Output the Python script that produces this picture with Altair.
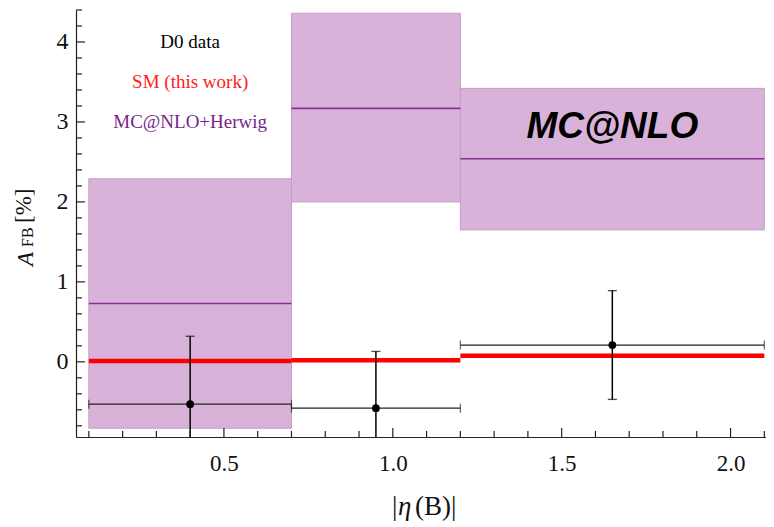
import altair as alt
import pandas as pd

# ---- data ----
bin_lo = [0.1, 0.7, 1.2]
bin_hi = [0.7, 1.2, 2.1]
mc_center = [0.73, 3.17, 2.54]
mc_low = [-0.83, 2.00, 1.65]
mc_high = [2.29, 4.36, 3.42]
sm_value = [0.01, 0.02, 0.075]
d0_x = [0.40, 0.95, 1.65]
d0_y = [-0.53, -0.58, 0.21]
d0_err = [0.85, 0.71, 0.68]

x_major_ticks = [0.5, 1.0, 1.5, 2.0]
x_minor_ticks = [0.1, 0.2, 0.3, 0.4, 0.6, 0.7, 0.8, 0.9, 1.1, 1.2, 1.3, 1.4,
                 1.6, 1.7, 1.8, 1.9, 2.1]
y_major_ticks = [0, 1, 2, 3, 4]
y_minor_ticks = [-0.8, -0.6, -0.4, -0.2, 0.2, 0.4, 0.6, 0.8, 1.2, 1.4, 1.6, 1.8,
                 2.2, 2.4, 2.6, 2.8, 3.2, 3.4, 3.6, 3.8, 4.2, 4.4]

legend_text = ["D0 data", "SM (this work)", "MC@NLO+Herwig"]
legend_color = ["#000000", "#ff2020", "#7a1f8a"]
legend_x = [0.40, 0.40, 0.40]
legend_y = [4.0, 3.5, 3.0]

X_DOMAIN = [0.062, 2.105]
Y_DOMAIN = [-0.94, 4.4]
W, H = 690, 427

bins = pd.DataFrame({"lo": bin_lo, "hi": bin_hi, "c": mc_center,
                     "low": mc_low, "high": mc_high, "sm": sm_value})
pts = pd.DataFrame({"x": d0_x, "y": d0_y, "err": d0_err, "lo": bin_lo, "hi": bin_hi})
pts["ylo"] = pts["y"] - pts["err"]
pts["yhi"] = pts["y"] + pts["err"]

xs = alt.Scale(domain=X_DOMAIN, nice=False, zero=False)
ys = alt.Scale(domain=Y_DOMAIN, nice=False, zero=False)

serif = "Liberation Serif"

base_x_axis = alt.Axis(values=x_major_ticks, format=".1f", ticks=False, grid=False,
                       labelFont=serif, labelFontSize=23, labelColor="#111111",
                       labelPadding=15, domainColor="#222222", domainWidth=1.2,
                       title=None)
base_y_axis = alt.Axis(values=y_major_ticks, format="d", ticks=False, grid=False,
                       labelFont=serif, labelFontSize=24, labelColor="#111111",
                       labelPadding=8, domainColor="#222222", domainWidth=1.2,
                       title=None)

boxes = alt.Chart(bins).mark_rect(fill="#d9b2d9", stroke="#c89bc8", strokeWidth=1).encode(
    x=alt.X("lo:Q", scale=xs, axis=base_x_axis),
    x2="hi:Q",
    y=alt.Y("low:Q", scale=ys, axis=base_y_axis),
    y2="high:Q",
)

centers = alt.Chart(bins).mark_rule(color="#8e2a9a", strokeWidth=1.6).encode(
    x=alt.X("lo:Q", scale=xs), x2="hi:Q", y=alt.Y("c:Q", scale=ys))

sm_line = alt.Chart(bins).mark_rule(color="#ff0000", strokeWidth=4.5).encode(
    x=alt.X("lo:Q", scale=xs), x2="hi:Q", y=alt.Y("sm:Q", scale=ys))

hbar = alt.Chart(pts).mark_rule(color="#222222", strokeWidth=1.2).encode(
    x=alt.X("lo:Q", scale=xs), x2="hi:Q", y=alt.Y("y:Q", scale=ys))

vbar = alt.Chart(pts).mark_rule(color="#000000", strokeWidth=1.5, clip=True).encode(
    x=alt.X("x:Q", scale=xs), y=alt.Y("ylo:Q", scale=ys), y2="yhi:Q")

hcap_lo = alt.Chart(pts).mark_tick(color="#222222", orient="vertical", size=9, thickness=1.2).encode(
    x=alt.X("lo:Q", scale=xs), y=alt.Y("y:Q", scale=ys))
hcap_hi = alt.Chart(pts).mark_tick(color="#222222", orient="vertical", size=9, thickness=1.2).encode(
    x=alt.X("hi:Q", scale=xs), y=alt.Y("y:Q", scale=ys))
vcap_hi = alt.Chart(pts).mark_tick(color="#000000", orient="horizontal", size=9, thickness=1.3, clip=True).encode(
    x=alt.X("x:Q", scale=xs), y=alt.Y("yhi:Q", scale=ys))
vcap_lo = alt.Chart(pts).mark_tick(color="#000000", orient="horizontal", size=9, thickness=1.3, clip=True).encode(
    x=alt.X("x:Q", scale=xs), y=alt.Y("ylo:Q", scale=ys))

dots = alt.Chart(pts).mark_circle(color="#000000", opacity=1, size=60).encode(
    x=alt.X("x:Q", scale=xs), y=alt.Y("y:Q", scale=ys))

# inward ticks
xmaj = alt.Chart(pd.DataFrame({"t": x_major_ticks})).mark_rule(color="#222222", strokeWidth=1.2).encode(
    x=alt.X("t:Q", scale=xs), y=alt.value(H), y2=alt.value(H - 9))
xmin = alt.Chart(pd.DataFrame({"t": x_minor_ticks})).mark_rule(color="#222222", strokeWidth=1.2).encode(
    x=alt.X("t:Q", scale=xs), y=alt.value(H), y2=alt.value(H - 6))
ymaj = alt.Chart(pd.DataFrame({"t": y_major_ticks})).mark_rule(color="#222222", strokeWidth=1.2).encode(
    y=alt.Y("t:Q", scale=ys), x=alt.value(0), x2=alt.value(9))
ymin = alt.Chart(pd.DataFrame({"t": y_minor_ticks})).mark_rule(color="#222222", strokeWidth=1.2).encode(
    y=alt.Y("t:Q", scale=ys), x=alt.value(0), x2=alt.value(6))

legend = alt.Chart(pd.DataFrame({"t": legend_text, "c": legend_color,
                                 "x": legend_x, "y": legend_y})).mark_text(
    font=serif, fontSize=19, align="center", baseline="middle").encode(
    x=alt.X("x:Q", scale=xs), y=alt.Y("y:Q", scale=ys), text="t:N",
    color=alt.Color("c:N", scale=None))

mc_label = alt.Chart(pd.DataFrame({"t": ["MC@NLO"], "x": [1.65], "y": [2.94]})).mark_text(
    font="Liberation Sans", fontSize=37, fontStyle="italic", fontWeight="bold",
    color="#000000", align="center", baseline="middle").encode(
    x=alt.X("x:Q", scale=xs), y=alt.Y("y:Q", scale=ys), text="t:N")

# y-axis title: A_FB[%]
ttl_A = alt.Chart(pd.DataFrame({"t": ["A"]})).mark_text(
    font=serif, fontSize=23, fontStyle="italic", angle=270, align="left", baseline="middle",
    color="#111111").encode(x=alt.value(-50), y=alt.value(256), text="t:N")
ttl_FB = alt.Chart(pd.DataFrame({"t": ["FB"]})).mark_text(
    font=serif, fontSize=16, angle=270, align="left", baseline="middle",
    color="#111111").encode(x=alt.value(-48), y=alt.value(237), text="t:N")
ttl_pct = alt.Chart(pd.DataFrame({"t": ["[%]"]})).mark_text(
    font=serif, fontSize=23, angle=270, align="left", baseline="middle",
    color="#111111").encode(x=alt.value(-52), y=alt.value(213), text="t:N")

# x-axis title: |η(B)|
xt_bar = alt.Chart(pd.DataFrame({"t": ["|"]})).mark_text(
    font=serif, fontSize=27, align="left", baseline="middle",
    color="#111111").encode(x=alt.value(316), y=alt.value(497), text="t:N")
xt_eta = alt.Chart(pd.DataFrame({"t": ["η"]})).mark_text(
    font=serif, fontSize=27, fontStyle="italic", align="left", baseline="middle",
    color="#111111").encode(x=alt.value(322), y=alt.value(497), text="t:N")
xt_rest = alt.Chart(pd.DataFrame({"t": ["(B)|"]})).mark_text(
    font=serif, fontSize=27, align="left", baseline="middle",
    color="#111111").encode(x=alt.value(339), y=alt.value(497), text="t:N")

chart = alt.layer(
    boxes, centers, sm_line, hbar, hcap_lo, hcap_hi, vbar, vcap_hi, vcap_lo, dots,
    xmaj, xmin, ymaj, ymin, legend, mc_label, ttl_A, ttl_FB, ttl_pct,
    xt_bar, xt_eta, xt_rest
).properties(
    width=W, height=H,
    autosize=alt.AutoSizeParams(type="none"),
    padding={"left": 68, "top": 2, "right": 0, "bottom": 88},
).configure_view(stroke=None)

chart.save("out.html", embed_options={"renderer": "svg", "actions": False})
